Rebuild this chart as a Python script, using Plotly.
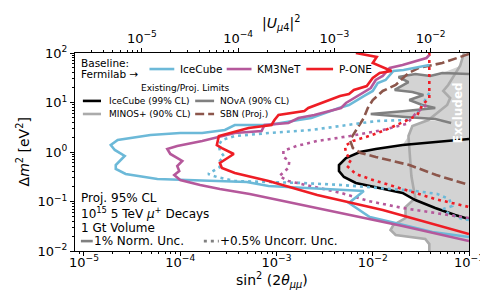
import math
import plotly.graph_objects as go

# ---------------- data ----------------
# Projected sensitivities, 1% normalisation uncertainty (solid)
icecube_sin2 = [0.0387, 0.0209, 0.0164, 0.0136, 0.01127, 0.0100, 0.00807, 0.00668, 0.00566, 0.00446,
                0.00230, 0.00169, 8.28e-4, 3.69e-4, 2.91e-4, 1.69e-4, 1.0e-4, 4.91e-5, 2.24e-5, 1.90e-5,
                2.09e-5, 2.65e-5, 2.14e-5, 2.14e-5, 2.71e-5, 5.79e-5, 1.27e-4, 4.91e-4, 8.28e-4, 4.68e-3,
                8.07e-3, 5.66e-3, 9.31e-3, 0.0190, 0.0416, 0.1]
icecube_dm2 = [57.3, 45.4, 43.3, 28.5, 24.8, 17.1, 13.5, 10.7, 8.89, 7.74,
               4.86, 4.43, 3.51, 3.51, 2.78, 2.42, 2.42, 2.20, 1.75, 1.38,
               1.10, 0.83, 0.546, 0.454, 0.360, 0.285, 0.272, 0.248, 0.206, 0.171,
               0.163, 0.0933, 0.0486, 0.0351, 0.0242, 0.0192]

km3net_sin2 = [0.0387, 0.0361, 0.0204, 0.0150, 0.0127, 0.01074, 0.00953, 0.00788, 0.00637, 0.00527,
               0.00468, 0.00247, 0.00169, 0.00133, 7.52e-4, 7.00e-4, 3.69e-4, 2.30e-4, 1.69e-4, 9.31e-5,
               7.34e-5, 7.89e-5, 1.05e-4, 9.31e-5, 9.77e-5, 8.67e-5, 1.00e-4, 1.61e-4, 2.58e-4, 5.27e-4,
               8.28e-4, 4.68e-3, 0.0204, 0.1]
km3net_dm2 = [91.2, 79.3, 57.3, 49.8, 34.3, 28.5, 19.6, 15.6, 12.3, 9.77,
              7.74, 5.59, 4.86, 3.85, 3.51, 2.65, 2.42, 1.92, 1.67, 1.32,
              1.15, 0.912, 0.658, 0.521, 0.413, 0.343, 0.272, 0.216, 0.179, 0.142,
              0.118, 0.0586, 0.0320, 0.0159]

pone_sin2 = [0.00668, 0.0110, 0.0100, 0.0157, 0.0118, 0.0100, 0.00867, 0.00637, 0.00566, 0.00457,
             0.00214, 0.00195, 0.00105, 9.53e-4, 8.87e-4, 5.14e-4, 2.52e-4, 2.40e-4, 2.71e-4, 3.60e-4,
             2.58e-4, 2.71e-4, 3.69e-4, 8.28e-4, 2.65e-3, 0.0127, 0.1]
pone_dm2 = [100, 83.0, 62.8, 43.3, 39.4, 31.3, 21.5, 17.9, 14.9, 13.5,
            7.74, 6.73, 5.59, 4.43, 3.51, 3.05, 2.10, 1.38, 1.20, 0.912,
            0.600, 0.475, 0.377, 0.259, 0.135, 0.0673, 0.0220]

# Projected sensitivities, +0.5% uncorrelated uncertainty (dotted)
icecube_unc_sin2 = [0.0387, 0.0351, 0.0313, 0.0284, 0.0224, 0.0110, 0.00457, 0.00230, 8.28e-4, 3.69e-4,
                    2.71e-4, 2.52e-4, 2.58e-4, 2.84e-4, 2.58e-4, 2.58e-4, 1.95e-4, 2.40e-4, 3.69e-4, 1.81e-3,
                    4.68e-3, 0.0277, 0.0468, 0.0622, 0.0668, 0.0540, 0.0622, 0.0848, 0.1]
icecube_unc_dm2 = [15.6, 11.2, 7.74, 5.59, 4.43, 4.23, 3.35, 2.78, 2.42, 2.10,
                   1.75, 1.38, 1.05, 0.83, 0.658, 0.498, 0.360, 0.313, 0.259, 0.237,
                   0.216, 0.163, 0.142, 0.112, 0.0811, 0.0705, 0.0559, 0.0443, 0.0423]

km3net_unc_sin2 = [0.0361, 0.0277, 0.0224, 0.0127, 0.00580, 0.00265, 0.00161, 0.00118, 0.00118, 0.00136,
                   0.00133, 0.00107, 0.00133, 0.00468, 0.00910, 0.0204, 0.0446, 0.1]
km3net_unc_dm2 = [8.89, 5.86, 3.68, 2.78, 2.10, 1.67, 1.32, 1.05, 0.792, 0.658,
                  0.475, 0.327, 0.259, 0.149, 0.102, 0.0740, 0.0586, 0.0464]

pone_unc_sin2 = [0.0387, 0.0387, 0.0327, 0.0291, 0.0219, 0.0136, 0.00910, 0.00622, 0.00514, 0.00527,
                 0.00593, 0.00540, 0.00668, 0.00931, 0.0204, 0.0446, 0.1]
pone_unc_dm2 = [100, 12.3, 8.89, 5.59, 4.23, 2.78, 2.10, 1.67, 1.32, 0.955,
                0.689, 0.521, 0.360, 0.285, 0.179, 0.112, 0.0774]

# Existing / projected limits
ic99_sin2 = [0.1, 0.0446, 0.0204, 0.01074, 0.00735, 0.00527, 0.00446, 0.00446, 0.00502, 0.00668,
             0.01074, 0.0204, 0.0277, 0.0446, 0.0718, 0.1]
ic99_dm2 = [1.83, 1.59, 1.38, 1.15, 1.0, 0.757, 0.546, 0.413, 0.313, 0.237,
            0.196, 0.149, 0.107, 0.0740, 0.0533, 0.0443]

minos_sin2 = [0.0887, 0.0807, 0.0608, 0.0540, 0.0637, 0.0593, 0.0378, 0.0258, 0.0235, 0.0240,
              0.0247, 0.0252, 0.0265, 0.0277, 0.0219, 0.0219, 0.0164, 0.0153, 0.0173, 0.0351,
              0.0387, 0.0387]
minos_dm2 = [100, 54.6, 22.6, 17.1, 12.3, 8.89, 4.43, 3.35, 2.10, 1.20,
             0.689, 0.327, 0.187, 0.118, 0.0774, 0.0464, 0.0335, 0.0265, 0.0210, 0.0175,
             0.0138, 0.01]

nova_sin2 = [0.1, 0.0527, 0.0396, 0.0277, 0.0185, 0.0235, 0.0169, 0.0258, 0.0336, 0.0240,
             0.0327, 0.0446, 0.0219, 0.00953, 0.0219, 0.0446, 0.0652]
nova_dm2 = [37.6, 39.4, 34.3, 37.6, 32.7, 25.9, 17.9, 16.3, 14.2, 11.2,
            8.89, 7.74, 6.73, 5.86, 5.09, 4.64, 3.85]

sbn_sin2 = [0.1, 0.0527, 0.0298, 0.0235, 0.0173, 0.0127, 0.0100, 0.00888, 0.00807, 0.00668,
            0.00580, 0.00622, 0.00752, 0.01074, 0.0240, 0.0457, 0.1]
sbn_dm2 = [95.5, 62.8, 49.8, 39.4, 22.6, 17.1, 11.2, 7.74, 4.86, 2.78,
           1.75, 1.20, 0.955, 0.792, 0.546, 0.343, 0.216]

# axis extents and tick labels
x_min, x_max = 8.07e-6, 0.1
y_min, y_max = 0.01, 100
x_tickvals = [1e-5, 1e-4, 1e-3, 1e-2, 1e-1]
x_ticktext = ["10<sup>\u22125</sup>", "10<sup>\u22124</sup>", "10<sup>\u22123</sup>",
              "10<sup>\u22122</sup>", "10<sup>\u22121</sup>"]
y_tickvals = [1e-2, 1e-1, 1, 10, 100]
y_ticktext = ["10<sup>\u22122</sup>", "10<sup>\u22121</sup>", "10<sup>0</sup>",
              "10<sup>1</sup>", "10<sup>2</sup>"]
u_tickvals = [1e-5, 1e-4, 1e-3, 1e-2]
u_ticktext = ["10<sup>\u22125</sup>", "10<sup>\u22124</sup>", "10<sup>\u22123</sup>",
              "10<sup>\u22122</sup>"]

# ---------------- styling ----------------
C_IC = "#6cb9d8"
C_KM = "#b5589b"
C_PO = "#ee1d25"
C_BLACK = "black"
C_NOVA = "#808080"
C_MINOS = "#ababab"
C_SBN = "#8c564b"
C_FILL = "#d3d3d3"
LW = 2.6
DOT = "3px,4px"
DASH = "9px,4px"
FONT = "DejaVu Sans"

fig = go.Figure()

# excluded region: union of existing limits, built from the limit curves
excl_x = [x_max] + minos_sin2[0:2] + nova_sin2[1:] + minos_sin2[6:9] + ic99_sin2[2:12] + minos_sin2[13:] + [x_max]
excl_y = [y_max] + minos_dm2[0:2] + nova_dm2[1:] + minos_dm2[6:9] + ic99_dm2[2:12] + minos_dm2[13:] + [y_min]
fig.add_trace(go.Scatter(x=excl_x, y=excl_y, mode="lines", fill="toself", fillcolor=C_FILL,
                         line=dict(width=0, color=C_FILL), hoverinfo="skip"))


def line(x, y, color, dash="solid", width=LW):
    fig.add_trace(go.Scatter(x=x, y=y, mode="lines", line=dict(color=color, width=width, dash=dash),
                             hoverinfo="skip"))


line(minos_sin2, minos_dm2, C_MINOS)
line(nova_sin2, nova_dm2, C_NOVA)
line(ic99_sin2, ic99_dm2, C_BLACK)
line(sbn_sin2, sbn_dm2, C_SBN, DASH)

line(icecube_unc_sin2, icecube_unc_dm2, C_IC, DOT)
line(km3net_unc_sin2, km3net_unc_dm2, C_KM, DOT)
line(pone_unc_sin2, pone_unc_dm2, C_PO, DOT)
line(icecube_sin2, icecube_dm2, C_IC)
line(km3net_sin2, km3net_dm2, C_KM)
line(pone_sin2, pone_dm2, C_PO)

# invisible helper so that the secondary |U_mu4|^2 axis is rendered
fig.add_trace(go.Scatter(x=u_tickvals, y=y_tickvals[:len(u_tickvals)], xaxis="x2", mode="markers",
                         marker=dict(opacity=0, size=1), hoverinfo="skip"))


def minor_vals(lo, hi):
    out = []
    for e in range(-7, 3):
        for m in range(2, 10):
            v = m * 10.0 ** e
            if lo < v < hi:
                out.append(v)
    return out


lx0, lx1 = math.log10(x_min), math.log10(x_max)
shift = math.log10(4)

axis_common = dict(type="log", showline=True, linecolor="black", linewidth=1, ticks="outside",
                   ticklen=4, tickwidth=1, tickcolor="black", showgrid=False, zeroline=False,
                   tickfont=dict(family=FONT, size=13, color="black"))

fig.update_layout(
    width=488, height=294,
    margin=dict(l=67, r=24, t=45, b=51),
    plot_bgcolor="white", paper_bgcolor="white",
    showlegend=False,
    font=dict(family=FONT, size=12, color="black"),
    xaxis=dict(range=[lx0, lx1], tickmode="array", tickvals=x_tickvals, ticktext=x_ticktext,
               ticklabelstandoff=-5,
               minor=dict(tickmode="array", tickvals=minor_vals(x_min, x_max), ticks="outside",
                          ticklen=2, tickcolor="black", showgrid=False),
               **axis_common),
    xaxis2=dict(range=[lx0 - shift, lx1 - shift], overlaying="x", side="top", anchor="y",
                tickmode="array", tickvals=u_tickvals, ticktext=u_ticktext,
                minor=dict(tickmode="array", tickvals=minor_vals(x_min / 4, x_max / 4), ticks="outside",
                           ticklen=2, tickcolor="black", showgrid=False),
                **axis_common),
    yaxis=dict(range=[math.log10(y_min), math.log10(y_max)], mirror=True, tickmode="array",
               tickvals=y_tickvals, ticktext=y_ticktext,
               minor=dict(tickmode="array", tickvals=minor_vals(y_min, y_max), ticks="outside",
                          ticklen=2, tickcolor="black", showgrid=False),
               **axis_common),
)

ann = []


def text(x, y, t, size, xanchor="left", **kw):
    ann.append(dict(x=x, y=y, xref="paper", yref="paper", text=t, showarrow=False,
                    xanchor=xanchor, yanchor="middle", font=dict(family=FONT, size=size,
                                                                  color=kw.pop("color", "black")), **kw))


shapes = []


def sample(x0, x1, y, color, dash="solid"):
    shapes.append(dict(type="line", xref="paper", yref="paper", x0=x0, x1=x1, y0=y, y1=y,
                       line=dict(color=color, width=LW, dash=dash)))


# axis titles
text(-0.131, 0.5, "\u0394<i>m</i><sup>2</sup> [eV<sup>2</sup>]", 14, xanchor="center", textangle=-90)
text(0.50, -0.148, "sin<sup>2</sup> (2<i>\u03b8</i><sub><i>\u03bc\u03bc</i></sub>)", 14, xanchor="center")
text(0.524, 1.152, "|<i>U</i><sub><i>\u03bc</i>4</sub>|<sup>2</sup>", 14, xanchor="center")

# baseline legend
text(0.010, 0.950, "Baseline:", 10.5)
text(0.010, 0.893, "Fermilab \u2192", 10.5)
sample(0.189, 0.252, 0.919, C_IC)
text(0.262, 0.919, "IceCube", 10.5)
sample(0.385, 0.448, 0.919, C_KM)
text(0.458, 0.919, "KM3NeT", 10.5)
sample(0.587, 0.655, 0.919, C_PO)
text(0.665, 0.919, "P-ONE", 10.5)

# existing / projected limits legend
text(0.280, 0.823, "Existing/Proj. Limits", 9, xanchor="center")
sample(0.020, 0.066, 0.758, C_BLACK)
text(0.080, 0.758, "IceCube (99% CL)", 9)
sample(0.305, 0.353, 0.758, C_NOVA)
text(0.364, 0.758, "NOvA (90% CL)", 9)
sample(0.020, 0.066, 0.692, C_MINOS)
text(0.080, 0.692, "MINOS+ (90% CL)", 9)
sample(0.305, 0.353, 0.692, C_SBN, DASH)
text(0.364, 0.692, "SBN (Proj.)", 9)

# bottom-left notes
text(0.010, 0.270, "Proj. 95% CL", 12)
text(0.010, 0.190, "10<sup>15</sup> 5 TeV <i>\u03bc</i><sup>+</sup> Decays", 12)
text(0.010, 0.116, "1 Gt Volume", 12)
sample(0.015, 0.045, 0.050, C_NOVA)
text(0.043, 0.050, "1% Norm. Unc.", 12)
sample(0.327, 0.365, 0.050, C_NOVA, DOT)
text(0.363, 0.050, "+0.5% Uncorr. Unc.", 12)

# excluded label
text(0.972, 0.70, "<b>Excluded</b>", 12, xanchor="center", textangle=-90, color="white")

fig.update_layout(annotations=ann, shapes=shapes)

fig.write_html("out.html")
